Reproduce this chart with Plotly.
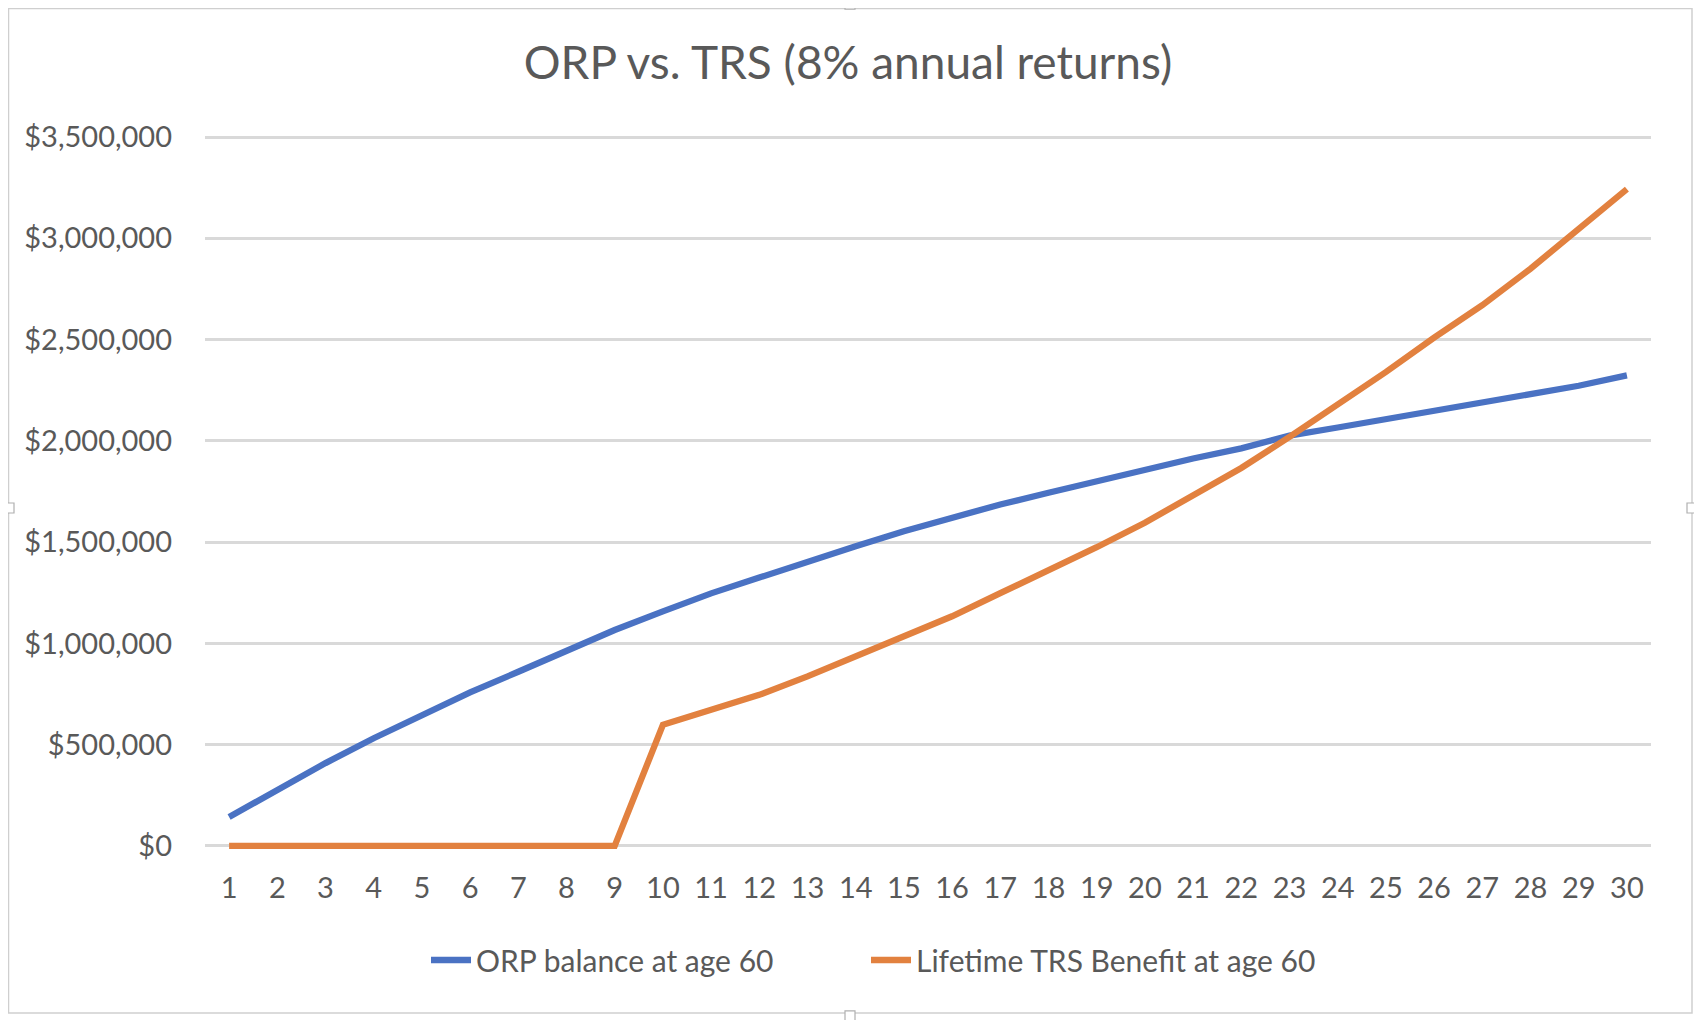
import plotly.graph_objects as go

years = list(range(1, 31))
orp_balance = [143000, 280000, 409000, 532000, 647000, 758000, 860000, 964000, 1066000, 1158000,
               1247000, 1325000, 1405000, 1480000, 1554000, 1622000, 1686000, 1744000, 1802000, 1860000,
               1913000, 1963000, 2026000, 2066000, 2106000, 2146000, 2188000, 2228000, 2272000, 2323000]
trs_benefit = [0, 0, 0, 0, 0, 0, 0, 0, 0, 598000,
               672000, 746000, 837000, 937000, 1030000, 1134000, 1248000, 1360000, 1475000, 1596000,
               1728000, 1866000, 2020000, 2180000, 2340000, 2510000, 2670000, 2850000, 3050000, 3243000]
series_names = ["ORP balance at age 60", "Lifetime TRS Benefit at age 60"]
y_ticks = [0, 500000, 1000000, 1500000, 2000000, 2500000, 3000000, 3500000]
title_text = "ORP vs. TRS (8% annual returns)"

FONT = "Lato"
TXT = "#595959"
O = 8  # page body margin offset

fig = go.Figure()
fig.add_trace(go.Scatter(x=years, y=orp_balance, mode="lines", name=series_names[0],
                         line=dict(color="#4A72C3", width=6.3), legend="legend"))
fig.add_trace(go.Scatter(x=years, y=trs_benefit, mode="lines", name=series_names[1],
                         line=dict(color="#E2813F", width=6.3), legend="legend2"))

W, H = 1702, 1020
# screen positions of the value axis: $0 at 846, $3.5M at 137
Y0_PX, YTOP_PX = 846.0, 137.0
pad_lo, pad_hi = 20000, 20000
ppu = (Y0_PX - YTOP_PX) / 3500000
y_lo, y_hi = -pad_lo, 3500000 + pad_hi

L = 205 - O
R = W - (1651 - O)
T = (YTOP_PX - pad_hi * ppu) - O
B = H - ((Y0_PX + pad_lo * ppu) - O)

def legend_at(x_screen):
    return dict(orientation="h", x=(x_screen - O) / W, xref="container", xanchor="left",
                y=1 - (960 - O) / H, yref="container", yanchor="middle",
                font=dict(family=FONT, size=30, color=TXT),
                bgcolor="rgba(0,0,0,0)", itemwidth=40)

fig.update_layout(
    width=W, height=H,
    margin=dict(l=L, r=R, t=T, b=B),
    paper_bgcolor="white", plot_bgcolor="white",
    font=dict(family=FONT, color=TXT, size=29),
    title=dict(text=title_text, x=(848 - O) / W, xref="container", xanchor="center",
               y=1 - (63 - O) / H, yref="container", yanchor="middle",
               font=dict(family=FONT, size=46, color=TXT)),
    showlegend=True,
    legend=legend_at(426),
    legend2=legend_at(866),
    xaxis=dict(type="linear", range=[0.5, 30.5], tickmode="array", tickvals=years,
               ticktext=[str(y) for y in years], showgrid=False, zeroline=False,
               showline=False, ticks="", ticklabelstandoff=int(round(22 - pad_lo * ppu)),
               tickfont=dict(family=FONT, size=29, color=TXT), fixedrange=True),
    yaxis=dict(range=[y_lo, y_hi], tickmode="array", tickvals=y_ticks,
               ticktext=["$" + format(v, ",") for v in y_ticks],
               showgrid=True, gridcolor="#D9D9D9", gridwidth=2.5, zeroline=False,
               showline=False, ticks="", ticklabelstandoff=32,
               tickfont=dict(family=FONT, size=29, color=TXT), fixedrange=True),
)

# chart frame and selection handles (decoration), given in screen pixels
pw, ph = W - L - R, H - T - B
def rect_px(x0, y0, x1, y1, **kw):
    return dict(type="rect", xref="paper", yref="paper",
                x0=(x0 - O - L) / pw, x1=(x1 - O - L) / pw,
                y0=(H - B - (y1 - O)) / ph, y1=(H - B - (y0 - O)) / ph, **kw)

shapes = [rect_px(8.5, 8.5, 1692, 1013, layer="below",
                  line=dict(color="#CFCFCF", width=1.5), fillcolor="rgba(0,0,0,0)")]
for cx, cy in [(850, 4), (850, 1016), (9, 508), (1692, 508)]:
    shapes.append(rect_px(cx - 5, cy - 5, cx + 5, cy + 5,
                          line=dict(color="#B0B0B0", width=1.2), fillcolor="white"))
fig.update_layout(shapes=shapes)

fig.write_html("out.html")
